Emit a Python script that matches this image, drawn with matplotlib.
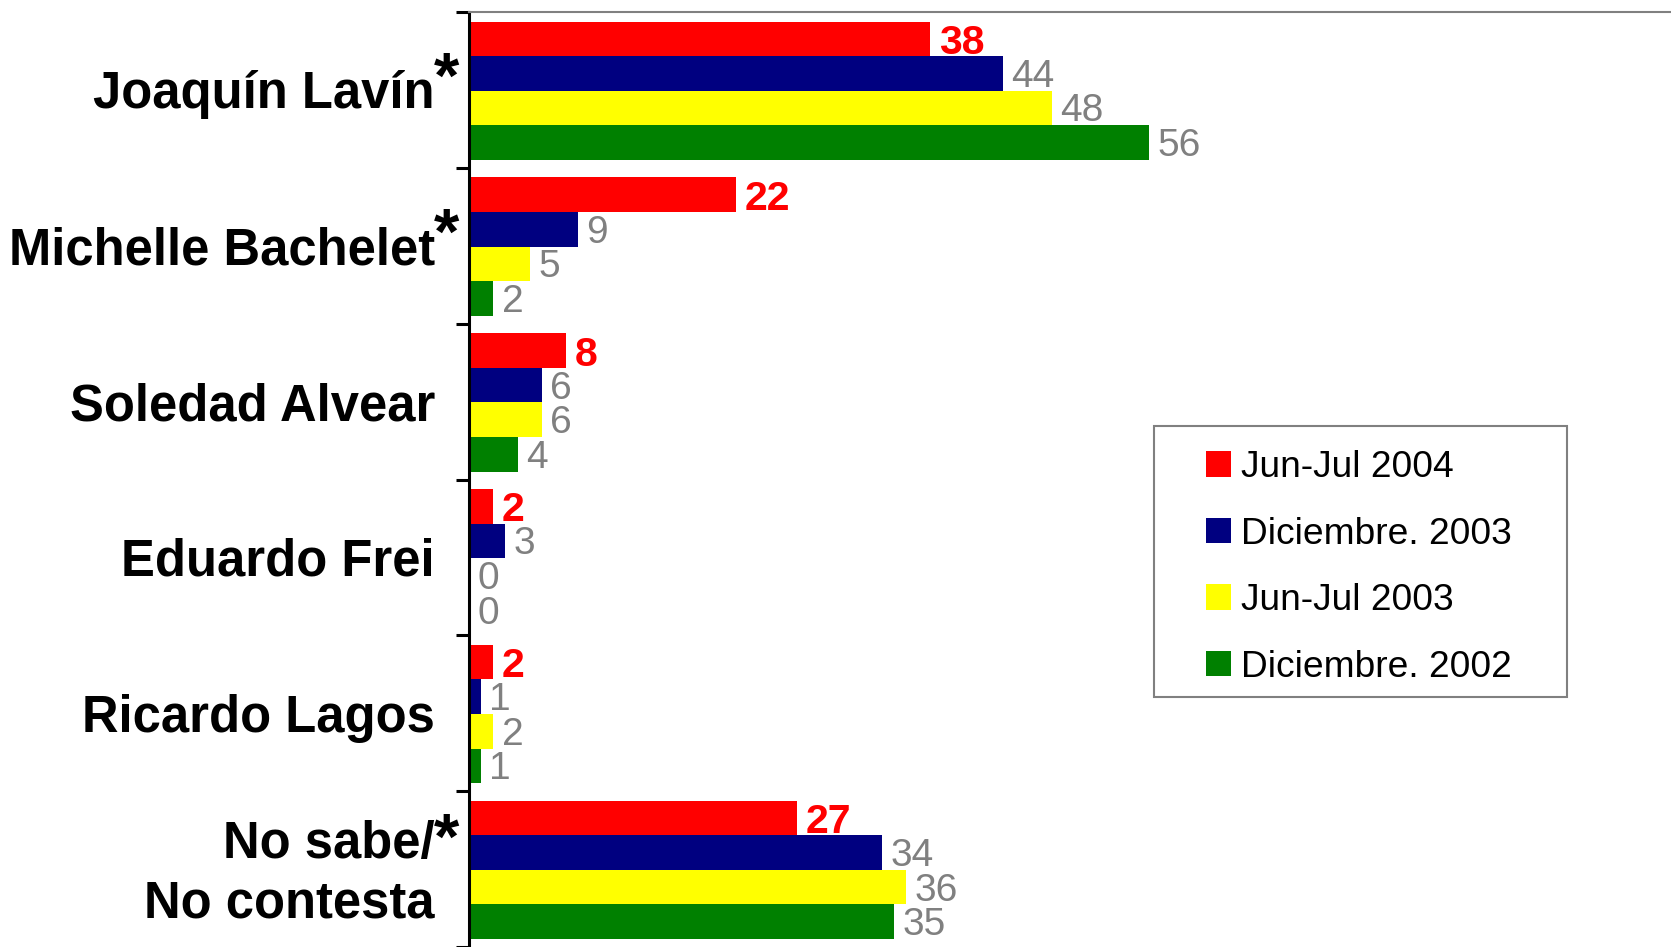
import matplotlib.pyplot as plt
from matplotlib.patches import Rectangle
from matplotlib.transforms import ScaledTranslation
import numpy as np

plt.rcParams['font.family'] = ['Liberation Sans', 'DejaVu Sans']

candidates = ['Joaquín Lavín', 'Michelle Bachelet', 'Soledad Alvear',
              'Eduardo Frei', 'Ricardo Lagos', 'No sabe/\nNo contesta']
starred = [True, True, False, False, False, True]

series_names = ['Jun-Jul 2004', 'Diciembre. 2003', 'Jun-Jul 2003', 'Diciembre. 2002']
jun_jul_2004 = [38, 22, 8, 2, 2, 27]
dic_2003 = [44, 9, 6, 3, 1, 34]
jun_jul_2003 = [48, 5, 6, 0, 2, 36]
dic_2002 = [56, 2, 4, 0, 1, 35]
series = [jun_jul_2004, dic_2003, jun_jul_2003, dic_2002]
colors = ['#FF0000', '#000080', '#FFFF00', '#008000']

W, H = 1671, 947
fig = plt.figure(figsize=(W / 100, H / 100), dpi=100)
ax = fig.add_axes([469 / W, 0, 1 - 469 / W, 1 - 12 / H])

y = np.arange(len(candidates))
bar_h = 0.222
for i, (vals, col, name) in enumerate(zip(series, colors, series_names)):
    pos = y + (i - 1.5) * bar_h + 0.005
    ax.barh(pos, vals, height=bar_h, color=col, label=name)
    # value labels: first series red bold, the rest grey
    for p, v in zip(pos, vals):
        if i == 0:
            ax.annotate(str(v), xy=(v, p), xytext=(6, -3), textcoords='offset points',
                        ha='left', va='center', fontsize=29.5, fontweight='bold', color='#FF0000')
        else:
            ax.annotate(str(v), xy=(v, p), xytext=(6, -2.5), textcoords='offset points',
                        ha='left', va='center', fontsize=28, color='#808080')

ax.set_xlim(0, 99)
ax.set_ylim(len(candidates) - 0.5, -0.5)
ax.set_xticks([])

ax.set_yticks(y)
ax.set_yticklabels(candidates, fontsize=36.5, fontweight='bold', va='center', linespacing=1.29)
ax.set_yticks(np.arange(len(candidates) + 1) - 0.5, minor=True)
ax.tick_params(axis='y', which='major', length=0, pad=24.5)
ax.tick_params(axis='y', which='minor', length=9.5, width=2.2, color='black')
# nudge the names down a little
for lab in ax.get_yticklabels():
    lab.set_transform(lab.get_transform() + ScaledTranslation(0, -0.05, fig.dpi_scale_trans))

ax.spines['left'].set_linewidth(2.2)
ax.spines['top'].set_color('#808080')
ax.spines['top'].set_linewidth(1.5)
ax.spines['right'].set_visible(False)
ax.spines['bottom'].set_visible(False)

# asterisks next to the names
for yi, st, name in zip(y, starred, candidates):
    if not st:
        continue
    dy = -19.5 if '\n' in name else -6.5
    ax.annotate('*', xy=(0, yi), xycoords=('axes fraction', 'data'), xytext=(-16.5, -dy),
                textcoords='offset points', ha='center', va='center',
                fontsize=47, fontweight='bold', annotation_clip=False)

# legend with a hand drawn frame
fig.legend(loc='upper left', bbox_to_anchor=(1206 / W, 1 - 450 / H), frameon=False,
           fontsize=26.7, handlelength=0.67, handleheight=0.67, handletextpad=0.28,
           labelspacing=0.85, borderpad=0, borderaxespad=0)
fig.patches.append(Rectangle((1154 / W, 1 - 697 / H), 413 / W, 271 / H,
                             transform=fig.transFigure, fill=False,
                             edgecolor='#808080', linewidth=1.5))

fig.savefig('out.png', dpi=100)
